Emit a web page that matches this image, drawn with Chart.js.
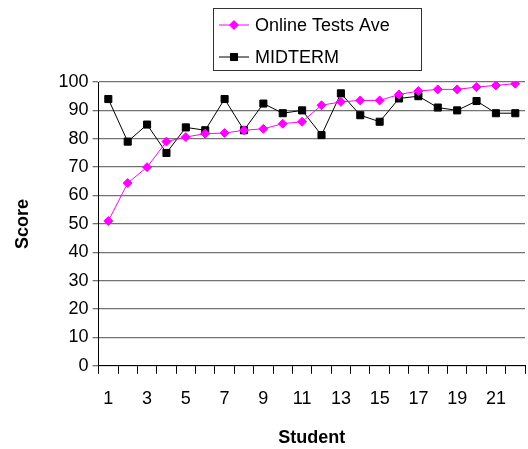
<!DOCTYPE html>
<html>
<head>
<meta charset="utf-8">
<script src="https://cdn.jsdelivr.net/npm/chart.js@4.4.1/dist/chart.umd.min.js"></script>
<style>
  html, body { margin: 0; padding: 0; background: #fff; overflow: hidden; }
  #wrap { width: 531px; height: 449px; }
</style>
</head>
<body>
<div id="wrap"><canvas id="scoreChart"></canvas></div>
<script>
// =======================================================
// Données
// =======================================================

const students = ["1","2","3","4","5","6","7","8","9","10","11","12","13","14","15","16","17","18","19","20","21","22"];

const onlineTests = [51, 64.4, 70, 79, 80.6, 81.8, 82, 83, 83.5, 85.3, 86, 91.8, 93, 93.5, 93.5, 95.6, 96.8, 97.4, 97.4, 98.2, 98.8, 99.4];

const midterm = [94, 79, 85, 75, 84, 83, 94, 83, 92.4, 89, 90, 81.3, 96, 88.3, 86, 94.2, 95, 91, 90, 93.3, 89, 89];

const legendLabels = ["Online Tests Ave", "MIDTERM"];

const FONT = "'Liberation Sans', Arial, sans-serif";

// =======================================================
// Légende encadrée
// =======================================================

const boxLegend = {
    id: "boxLegend",
    afterDraw(chart) {
        const ctx = chart.ctx;
        const x = 213, y = 8, w = 208, h = 62;
        ctx.save();
        ctx.fillStyle = "#fff";
        ctx.fillRect(x, y, w, h);
        ctx.strokeStyle = "#333";
        ctx.lineWidth = 1;
        ctx.strokeRect(x + 0.5, y + 0.5, w, h);

        const rows = [y + 17, y + 49];
        chart.data.datasets.forEach((ds, i) => {
            const ry = rows[i];
            ctx.strokeStyle = ds.borderColor;
            ctx.lineWidth = 1;
            ctx.beginPath();
            ctx.moveTo(x + 6, ry);
            ctx.lineTo(x + 36, ry);
            ctx.stroke();
            Chart.helpers.drawPoint(ctx, {
                pointStyle: ds.pointStyle,
                radius: ds.pointRadius,
                borderWidth: 1
            }, x + 21, ry);
            ctx.fillStyle = ds.pointBackgroundColor;
            ctx.fill();
            ctx.fillStyle = "#000";
            ctx.font = "18px " + FONT;
            ctx.textBaseline = "middle";
            ctx.fillText(legendLabels[i], x + 42, ry + 1);
        });
        ctx.restore();
    }
};

// =======================================================
// Graphique
// =======================================================

new Chart(document.getElementById("scoreChart"), {

    type: "line",

    data: {

        labels: students,

        datasets: [{
            label: legendLabels[0],
            data: onlineTests,
            borderColor: "#ff00ff",
            backgroundColor: "#ff00ff",
            pointBackgroundColor: "#ff00ff",
            pointBorderColor: "#ff00ff",
            pointStyle: "rectRot",
            pointRadius: 4.5,
            borderWidth: 1,
            tension: 0
        }, {
            label: legendLabels[1],
            data: midterm,
            borderColor: "#000",
            backgroundColor: "#000",
            pointBackgroundColor: "#000",
            pointBorderColor: "#000",
            pointStyle: "rect",
            pointRadius: 5,
            borderWidth: 1,
            tension: 0
        }]

    },

    options: {

        responsive: true,
        maintainAspectRatio: false,
        animation: false,

        layout: {
            padding: { top: 82, left: 8, right: 0, bottom: 0 }
        },

        plugins: {
            legend: { display: false },
            tooltip: { enabled: false }
        },

        scales: {

            x: {
                offset: true,
                grid: {
                    offset: true,
                    drawOnChartArea: false,
                    drawTicks: true,
                    tickLength: 8,
                    color: "#000"
                },
                border: { color: "#000" },
                ticks: {
                    autoSkip: false,
                    maxRotation: 0,
                    padding: 14,
                    color: "#000",
                    font: { family: FONT, size: 18 },
                    callback: (v, i) => (i % 2 === 0 ? students[i] : "")
                },
                title: {
                    display: true,
                    text: "Student",
                    color: "#000",
                    font: { family: FONT, size: 18, weight: "bold" },
                    padding: { top: 4, bottom: 0 }
                }
            },

            y: {
                min: 0,
                max: 100,
                grid: {
                    color: "#737373",
                    lineWidth: 1.3,
                    tickLength: 6
                },
                border: { color: "#000" },
                ticks: {
                    stepSize: 10,
                    padding: 4,
                    color: "#000",
                    font: { family: FONT, size: 18 }
                },
                title: {
                    display: true,
                    text: "Score",
                    color: "#000",
                    font: { family: FONT, size: 18, weight: "bold" },
                    padding: { bottom: 21 }
                }
            }

        }

    },

    plugins: [boxLegend]

});
</script>
</body>
</html>
